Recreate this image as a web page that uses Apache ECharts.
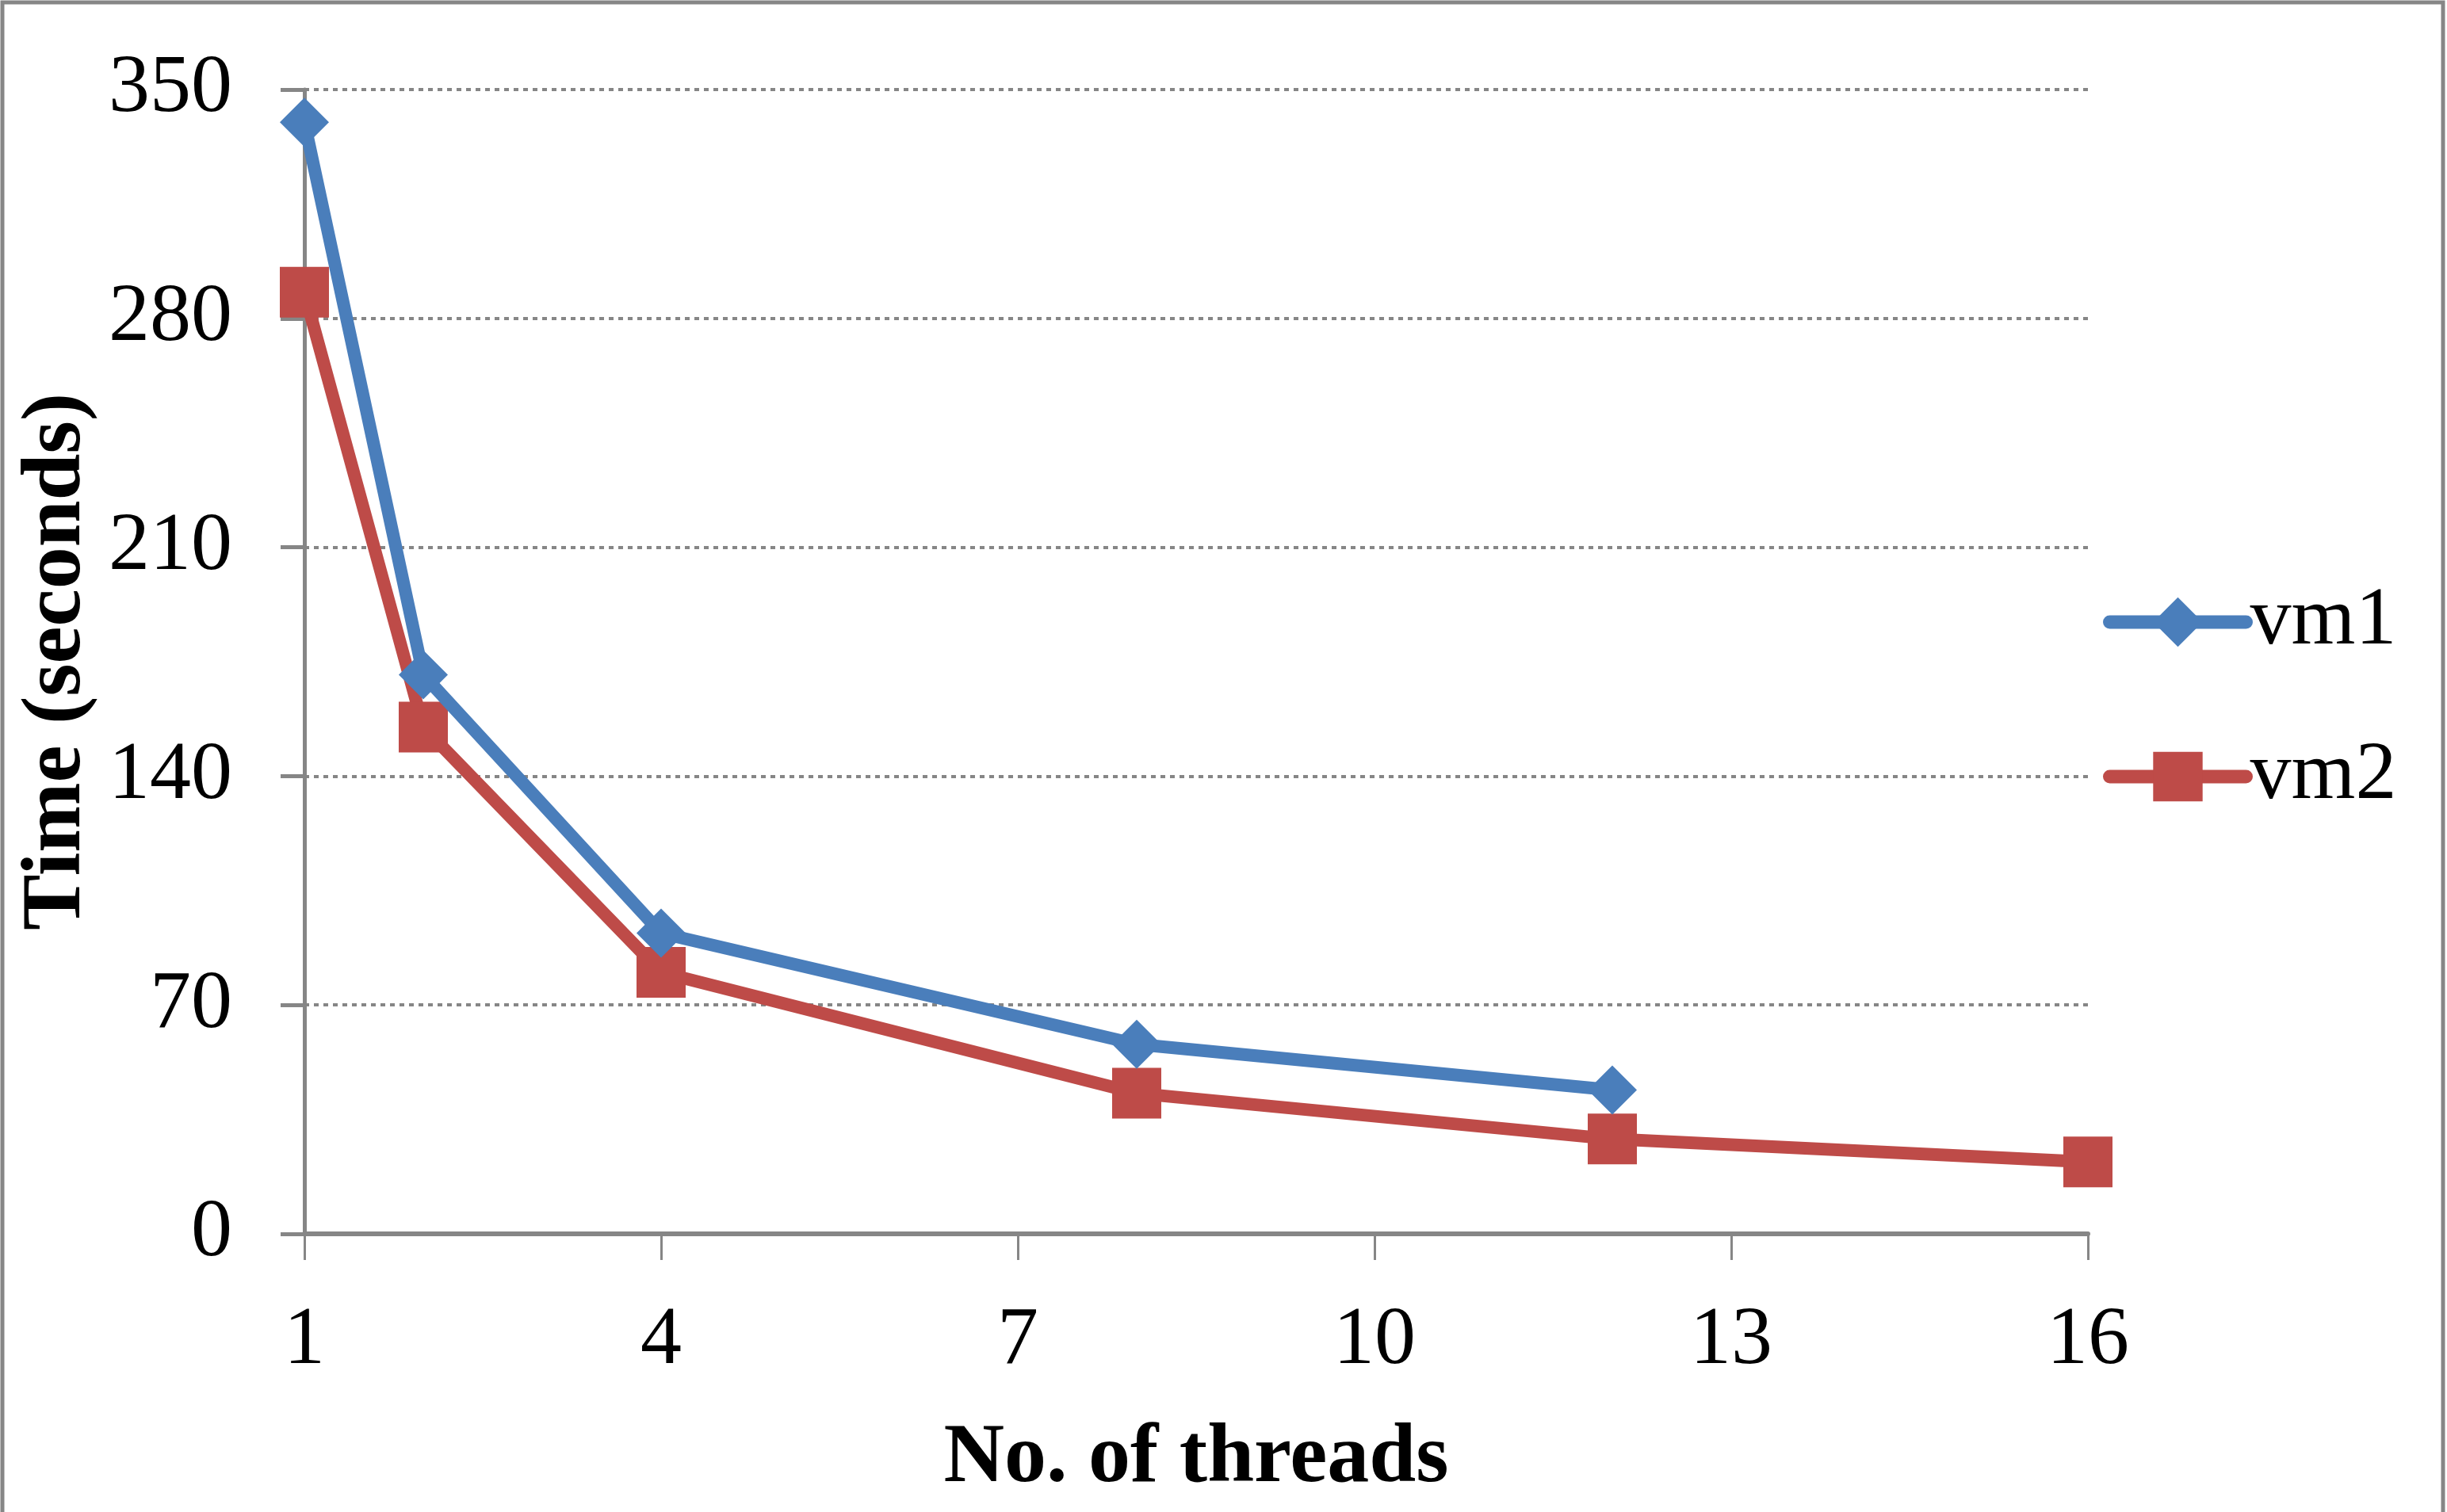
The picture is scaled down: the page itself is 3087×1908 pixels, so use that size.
<!DOCTYPE html>
<html>
<head>
<meta charset="utf-8">
<script src="https://cdn.jsdelivr.net/npm/echarts@6/dist/echarts.min.js"></script>
<style>
html,body{margin:0;padding:0;background:#fff;}
#chart{width:3087px;height:1908px;}
</style>
</head>
<body>
<div id="chart"></div>
<script>
const threads = [1, 2, 4, 8, 12, 16];
const vm1 = [340, 171, 92, 58, 44, null];
const vm2 = [288, 155, 80, 43, 29, 22];
const seriesNames = ['vm1', 'vm2'];
const xTitle = 'No. of threads';
const yTitle = 'Time (seconds)';

const FONT = '"Liberation Serif", "DejaVu Serif", serif';
const chart = echarts.init(document.getElementById('chart'), null, {renderer: 'canvas'});

function pairs(xs, ys) {
  const out = [];
  xs.forEach((x, i) => { if (ys[i] !== null) out.push([x, ys[i]]); });
  return out;
}

chart.setOption({
  backgroundColor: '#ffffff',
  animation: false,
  graphic: [{
    type: 'rect',
    shape: {x: 3, y: 3, width: 3079, height: 3899},
    style: {fill: 'none', stroke: '#868686', lineWidth: 5},
    z: -1
  }],
  grid: {left: 384, right: 453, top: 113, bottom: 351, containLabel: false},
  legend: {
    orient: 'vertical',
    left: 2648,
    top: 728,
    itemWidth: 172,
    itemHeight: 78,
    itemGap: 91,
    data: seriesNames,
    lineStyle: {width: 17, cap: 'round'},
    textStyle: {fontFamily: FONT, fontSize: 104, color: '#000', padding: [0, 0, 0, 0]}
  },
  xAxis: {
    type: 'value',
    min: 1, max: 16, interval: 3,
    name: xTitle,
    nameLocation: 'middle',
    nameGap: 232,
    nameTextStyle: {fontFamily: FONT, fontSize: 106, fontWeight: 'bold', color: '#000'},
    axisLine: {show: true, lineStyle: {color: '#868686', width: 6}},
    axisTick: {show: true, length: 33, lineStyle: {color: '#868686', width: 3}},
    axisLabel: {fontFamily: FONT, fontSize: 104, color: '#000', margin: 84},
    splitLine: {show: false}
  },
  yAxis: {
    type: 'value',
    min: 0, max: 350, interval: 70,
    name: yTitle,
    nameLocation: 'middle',
    nameGap: 240,
    nameTextStyle: {fontFamily: FONT, fontSize: 106, fontWeight: 'bold', color: '#000'},
    axisLine: {show: true, lineStyle: {color: '#868686', width: 5}},
    axisTick: {show: true, length: 30, lineStyle: {color: '#868686', width: 5}},
    axisLabel: {fontFamily: FONT, fontSize: 104, color: '#000', margin: 91},
    splitLine: {show: true, lineStyle: {color: '#868686', width: 4, type: [6, 6]}}
  },
  series: [
    {
      name: seriesNames[0],
      type: 'line',
      data: pairs(threads, vm1),
      symbol: 'diamond',
      symbolSize: [62, 62],
      lineStyle: {color: '#4a7ebb', width: 16},
      itemStyle: {color: '#4a7ebb'},
      z: 3
    },
    {
      name: seriesNames[1],
      type: 'line',
      data: pairs(threads, vm2),
      symbol: 'rect',
      symbolSize: [62, 64],
      lineStyle: {color: '#be4b48', width: 16},
      itemStyle: {color: '#be4b48'},
      z: 2
    }
  ]
});
</script>
</body>
</html>
